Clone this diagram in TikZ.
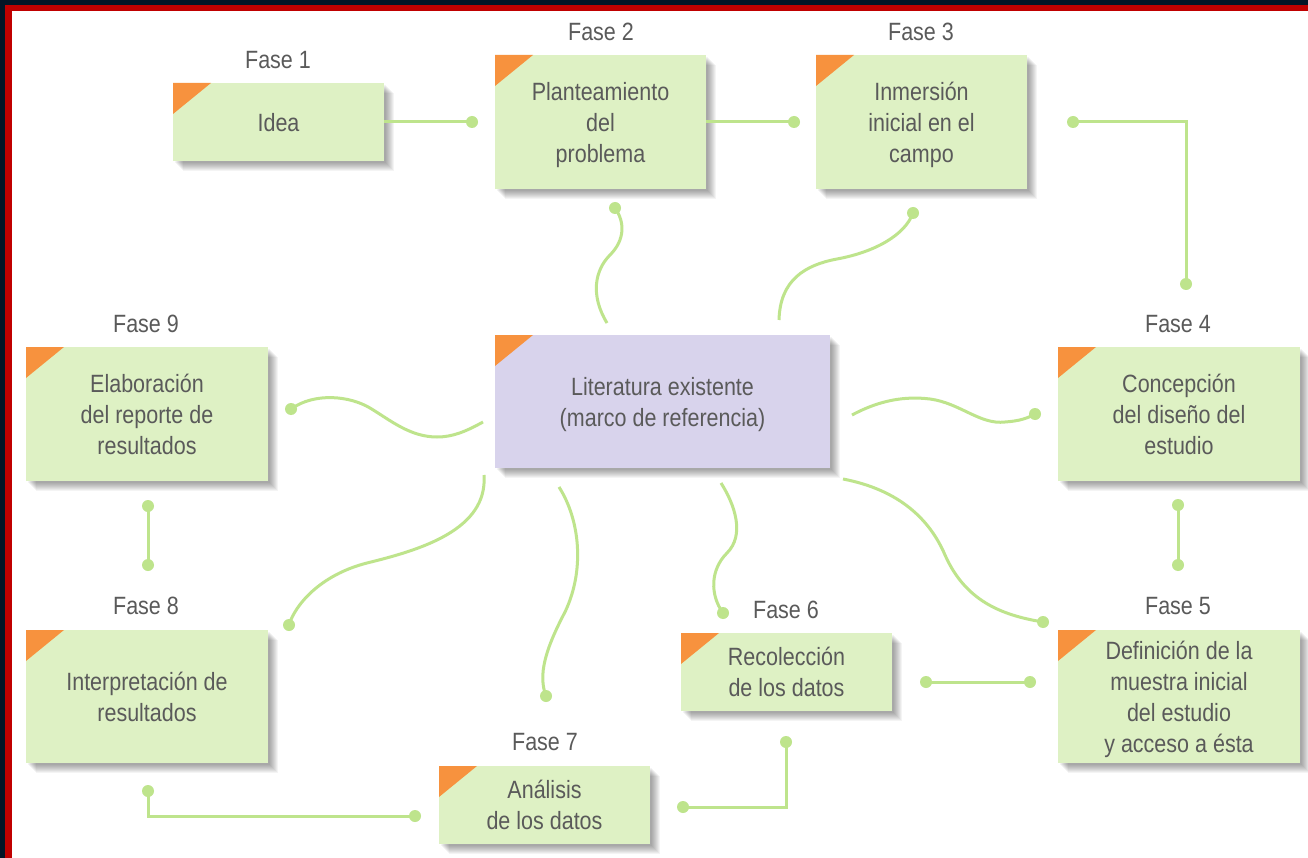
\documentclass[tikz,border=0pt]{standalone}
\usepackage{fontspec}
\setmainfont[FakeStretch=0.86]{Liberation Sans}
\definecolor{boxgreen}{HTML}{DEF1C4}
\definecolor{boxpurple}{HTML}{D8D3EC}
\definecolor{cornerorange}{HTML}{F7923E}
\definecolor{conngreen}{HTML}{BEE48C}
\definecolor{txtgray}{HTML}{5A5A5A}
\definecolor{framenavy}{HTML}{031526}
\definecolor{framered}{HTML}{C00000}
\tikzset{
  shadowlayer/.style={preaction={fill=black, fill opacity=0.045, draw=none, transform canvas={shift={(#1pt,-#1pt)}}}},
  softshadow/.style={shadowlayer=2, shadowlayer=3, shadowlayer=4, shadowlayer=5, shadowlayer=6, shadowlayer=7, shadowlayer=8, shadowlayer=9, shadowlayer=10},
  phasebox/.style={softshadow, fill=boxgreen, inner sep=0pt, align=center, text=txtgray,
    font=\fontsize{25}{31}\selectfont, text depth=0pt,
    path picture={\fill[cornerorange] (path picture bounding box.north west) -- ++(38pt,0pt) -- ++(-38pt,-31pt) -- cycle;}},
  litbox/.style={phasebox, fill=boxpurple},
  phaselabel/.style={text=txtgray, font=\fontsize{25}{31}\selectfont, inner sep=0pt},
  conn/.style={draw=conngreen, line width=3pt},
  enddot/.style={circle, fill=conngreen, inner sep=0pt, minimum size=12pt}
}
\begin{document}
\begin{tikzpicture}[x=1pt,y=-1pt]
% frame
\fill[framenavy] (0,0) rectangle (1308,858);
\fill[framered] (5,5) rectangle (1308,858);
\fill[white] (12,11) rectangle (1308,858);
\useasboundingbox (0,0) rectangle (1308,858);

% boxes
\node[phasebox, minimum width=211pt, minimum height=78pt] (idea) at (278.5,122) {Idea};
\node[phasebox, minimum width=211pt, minimum height=134pt, text depth=-3pt] (plan) at (600.5,122) {Planteamiento\\del\\problema};
\node[phasebox, minimum width=211pt, minimum height=134pt, text depth=-3pt] (inm) at (921.5,122) {Inmersión\\inicial en el\\campo};
\node[phasebox, minimum width=242pt, minimum height=134pt] (elab) at (147,414) {Elaboración\\del reporte de\\resultados};
\node[litbox, minimum width=335pt, minimum height=133pt, text depth=-2pt] (lit) at (662.5,401.5) {Literatura existente\\(marco de referencia)};
\node[phasebox, minimum width=242pt, minimum height=134pt] (conc) at (1179,414) {Concepción\\del diseño del\\estudio};
\node[phasebox, minimum width=242pt, minimum height=133pt] (interp) at (147,696.5) {Interpretación de\\resultados};
\node[phasebox, minimum width=211pt, minimum height=78pt] (recol) at (786.5,672) {Recolección\\de los datos};
\node[phasebox, minimum width=242pt, minimum height=133pt] (defi) at (1179,696.5) {Definición de la\\muestra inicial\\del estudio\\y acceso a ésta};
\node[phasebox, minimum width=211pt, minimum height=78pt] (anal) at (544.5,805) {Análisis\\de los datos};

% phase labels
\node[phaselabel] (f1) at (278,60) {Fase 1};
\node[phaselabel] (f2) at (601,32) {Fase 2};
\node[phaselabel] (f3) at (921,32) {Fase 3};
\node[phaselabel] (f4) at (1178,324) {Fase 4};
\node[phaselabel] (f5) at (1178,606) {Fase 5};
\node[phaselabel] (f6) at (786,610) {Fase 6};
\node[phaselabel] (f7) at (545,742) {Fase 7};
\node[phaselabel] (f8) at (146,606) {Fase 8};
\node[phaselabel] (f9) at (146,324) {Fase 9};

% dots
\node[enddot] (d1) at (472,122) {};
\node[enddot] (d2) at (794,122) {};
\node[enddot] (d3a) at (1073,122) {};
\node[enddot] (d3b) at (1186,284) {};
\node[enddot] (d4a) at (1178,505) {};
\node[enddot] (d4b) at (1178,565) {};
\node[enddot] (d5a) at (1030,682) {};
\node[enddot] (d5b) at (926,682) {};
\node[enddot] (d6a) at (786,742) {};
\node[enddot] (d6b) at (683,807) {};
\node[enddot] (d7a) at (415,816) {};
\node[enddot] (d7b) at (148,791) {};
\node[enddot] (d8a) at (148,565) {};
\node[enddot] (d8b) at (148,506) {};
% dots of the curved connectors
\node[enddot] (ca) at (615,208) {};
\node[enddot] (cb) at (913,213) {};
\node[enddot] (cc) at (291,409) {};
\node[enddot] (cd) at (1035,414) {};
\node[enddot] (ce) at (289,625) {};
\node[enddot] (cf) at (546,696) {};
\node[enddot] (cg) at (723,613) {};
\node[enddot] (ch) at (1043,622) {};

% start points of curved connectors near the literature box
\coordinate (sa) at (607,323);
\coordinate (sb) at (779,320);
\coordinate (sc) at (483,422);
\coordinate (sd) at (852,415);
\coordinate (se) at (484,475);
\coordinate (sf) at (559,487);
\coordinate (sg) at (721,483);
\coordinate (sh) at (843,479);

% straight connectors
\draw[conn] (idea.east) -- (d1.center);
\draw[conn] (plan.east) -- (d2.center);
\draw[conn] (d3a.center) -| (d3b.center);
\draw[conn] (d4a.center) -- (d4b.center);
\draw[conn] (d5a.center) -- (d5b.center);
\draw[conn] (d6a.center) |- (d6b.center);
\draw[conn] (d7a.center) -| (d7b.center);
\draw[conn] (d8a.center) -- (d8b.center);

% curved connectors
\draw[conn] (sa) .. controls (590,295) and (595,270) .. (610,255) .. controls (625,240) and (625,222) .. (ca.center);
\draw[conn] (sb) .. controls (780,280) and (805,265) .. (837,259) .. controls (875,252) and (905,235) .. (cb.center);
\draw[conn] (sc) .. controls (465,432) and (452,437) .. (437,437) .. controls (410,437) and (390,420) .. (370,408) .. controls (350,396) and (315,392) .. (cc.center);
\draw[conn] (sd) .. controls (880,400) and (905,396) .. (930,399) .. controls (960,403) and (980,425) .. (1005,422) .. controls (1020,421) and (1028,418) .. (cd.center);
\draw[conn] (se) .. controls (488,530) and (420,550) .. (367,563) .. controls (320,575) and (295,605) .. (ce.center);
\draw[conn] (sf) .. controls (580,520) and (585,570) .. (565,612) .. controls (545,650) and (538,675) .. (cf.center);
\draw[conn] (sg) .. controls (735,505) and (745,535) .. (727,553) .. controls (710,570) and (710,595) .. (cg.center);
\draw[conn] (sh) .. controls (900,490) and (930,520) .. (945,555) .. controls (965,600) and (1000,615) .. (ch.center);
\end{tikzpicture}
\end{document}
